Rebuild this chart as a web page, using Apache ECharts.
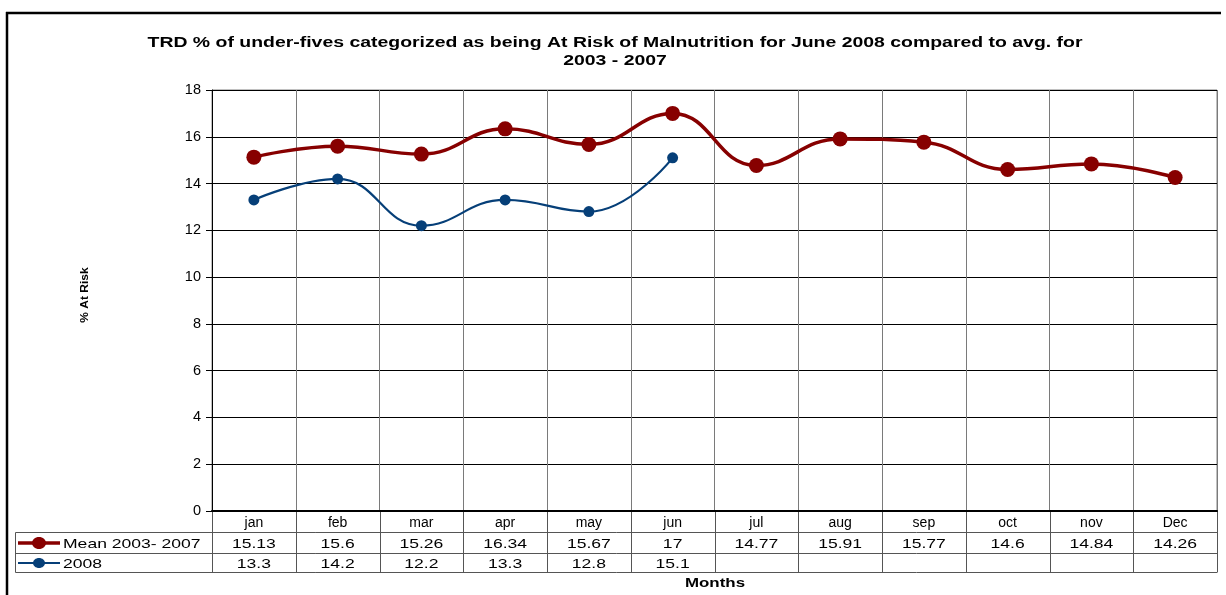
<!DOCTYPE html>
<html>
<head>
<meta charset="utf-8">
<script src="https://cdn.jsdelivr.net/npm/echarts@6/dist/echarts.min.js"></script>
<style>
html,body{margin:0;padding:0;background:#fff;overflow:hidden;}
#c{width:1226px;height:595px;}
</style>
</head>
<body>
<div id="c"></div>
<script>
var categories = ['jan','feb','mar','apr','may','jun','jul','aug','sep','oct','nov','Dec'];
var meanLabel = 'Mean 2003- 2007';
var meanValues = [15.13, 15.6, 15.26, 16.34, 15.67, 17, 14.77, 15.91, 15.77, 14.6, 14.84, 14.26];
var label2008 = '2008';
var values2008 = [13.3, 14.2, 12.2, 13.3, 12.8, 15.1];
var yTicks = [0, 2, 4, 6, 8, 10, 12, 14, 16, 18];
var titleLines = ['TRD % of under-fives categorized as being At Risk of Malnutrition for June 2008 compared to avg. for', '2003 - 2007'];
var xTitle = 'Months';
var yTitle = '% At Risk';

var meanColor = '#870000';
var color2008 = '#063F78';
var FONT = '"Liberation Sans", Arial, sans-serif';
var STRETCH = 1.3;

var chart = echarts.init(document.getElementById('c'), null, {renderer: 'canvas', width: 1226, height: 595});

var option = {
  animation: false,
  backgroundColor: '#fff',
  grid: {left: 212, top: 90, width: 1005, height: 421, show: true, borderColor: '#808080', borderWidth: 1},
  xAxis: {
    type: 'category',
    data: categories,
    boundaryGap: true,
    axisLine: {show: true, lineStyle: {color: '#000', width: 2}},
    axisTick: {show: false},
    axisLabel: {fontFamily: FONT, fontSize: 14, color: '#000', margin: 5, interval: 0},
    splitLine: {show: true, interval: 0, lineStyle: {color: '#7a7a7a', width: 1}}
  },
  yAxis: {
    type: 'value',
    min: yTicks[0],
    max: yTicks[yTicks.length - 1],
    interval: 2,
    axisLine: {show: true, lineStyle: {color: '#000', width: 1}},
    axisTick: {show: true, inside: false, length: 6, lineStyle: {color: '#000'}},
    axisLabel: {fontFamily: FONT, fontSize: 14.5, color: '#000', margin: 11},
    splitLine: {show: true, lineStyle: {color: '#000', width: 1}}
  },
  series: [
    {
      name: meanLabel,
      type: 'line',
      data: meanValues,
      smooth: 0.45,
      symbol: 'circle',
      symbolSize: 15,
      lineStyle: {color: meanColor, width: 3.5},
      itemStyle: {color: meanColor},
      z: 3
    },
    {
      name: label2008,
      type: 'line',
      data: values2008,
      smooth: 0.45,
      symbol: 'circle',
      symbolSize: 11,
      lineStyle: {color: color2008, width: 2.2},
      itemStyle: {color: color2008},
      z: 4
    }
  ]
};

chart.setOption(option);

function stext(x, y, text, size, bold, align, sx) {
  return {
    type: 'text', x: x, y: y, scaleX: sx || STRETCH, silent: true, z: 10,
    style: {text: text, font: (bold ? 'bold ' : '') + size + 'px ' + FONT, fill: '#000',
            textAlign: align || 'center', textVerticalAlign: 'middle'}
  };
}

// Build data table under the axis using the chart's own axis scale
var c0 = chart.convertToPixel({xAxisIndex: 0}, 0);
var c1 = chart.convertToPixel({xAxisIndex: 0}, 1);
var band = c1 - c0;
var axisY = chart.convertToPixel({yAxisIndex: 0}, 0);
var rowTop = axisY;
var row1 = axisY + 21.5;
var row2 = axisY + 42.5;
var row3 = axisY + 61.5;
var tableLeft = 15.5;
var leftPlot = c0 - band / 2;
var rightPlot = c0 + band * (categories.length - 0.5);
var lineCol = '#555';
var els = [];

// outer frame
els.push({type: 'line', shape: {x1: 6, y1: 13, x2: 1221, y2: 13}, style: {stroke: '#000', lineWidth: 2.5}, silent: true});
els.push({type: 'line', shape: {x1: 7, y1: 12, x2: 7, y2: 600}, style: {stroke: '#000', lineWidth: 2.5}, silent: true});

// title
els.push(stext(615, 43, titleLines[0], 14.5, true, 'center', 1.34));
els.push(stext(615, 61, titleLines[1], 14.5, true, 'center', 1.34));
// x title
els.push(stext((leftPlot + rightPlot) / 2 + 0.5, 583, xTitle, 13, true));
// y title (rotated)
els.push({type: 'text', x: 85, y: 295, rotation: Math.PI / 2, scaleY: 0.9, silent: true, z: 10,
  style: {text: yTitle, font: 'bold 12px ' + FONT, fill: '#000', textAlign: 'center', textVerticalAlign: 'middle'}});

// horizontal table lines
[row1, row2, row3].forEach(function (y) {
  els.push({type: 'line', shape: {x1: tableLeft, y1: y, x2: rightPlot, y2: y}, style: {stroke: lineCol, lineWidth: 1}, silent: true});
});
// left border of legend cells
els.push({type: 'line', shape: {x1: tableLeft, y1: row1, x2: tableLeft, y2: row3}, style: {stroke: lineCol, lineWidth: 1}, silent: true});
// vertical lines
for (var i = 0; i <= categories.length; i++) {
  var x = Math.round(leftPlot + band * i) + 0.5;
  els.push({type: 'line', shape: {x1: x, y1: rowTop, x2: x, y2: row3}, style: {stroke: lineCol, lineWidth: 1}, silent: true});
}
// legend keys
function legendKey(yc, color, lw, rx, ry, label) {
  els.push({type: 'line', shape: {x1: 18, y1: yc, x2: 60, y2: yc}, style: {stroke: color, lineWidth: lw}, silent: true});
  els.push({type: 'ellipse', shape: {cx: 39, cy: yc, rx: rx, ry: ry}, style: {fill: color}, silent: true});
  els.push(stext(63, yc + 1, label, 13.5, false, 'left'));
}
var yMean = (row1 + row2) / 2;
var y08 = (row2 + row3) / 2;
legendKey(yMean, meanColor, 3.5, 7, 6, meanLabel);
legendKey(y08, color2008, 2.2, 6, 5, label2008);
// values
meanValues.forEach(function (v, i) {
  var x = chart.convertToPixel({xAxisIndex: 0}, i);
  els.push(stext(x, yMean + 1, String(v), 13.5, false));
});
values2008.forEach(function (v, i) {
  var x = chart.convertToPixel({xAxisIndex: 0}, i);
  els.push(stext(x, y08 + 1, String(v), 13.5, false));
});

chart.setOption({graphic: {elements: els}});
</script>
</body>
</html>
